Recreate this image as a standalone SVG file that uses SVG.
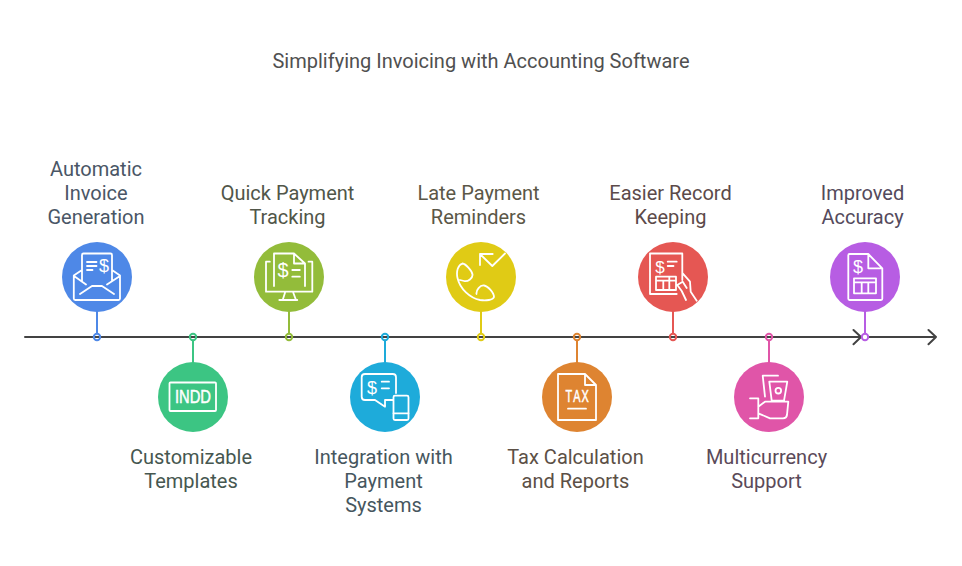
<svg xmlns="http://www.w3.org/2000/svg" width="962" height="566" viewBox="0 0 962 566">
<style>
text{font-family:Roboto,"Liberation Sans",sans-serif;font-size:20px;text-anchor:middle}
.i{fill:none;stroke:#fff;stroke-width:1.8;stroke-linecap:round;stroke-linejoin:round}
.g{fill:#fff;font-family:"Liberation Sans",sans-serif;font-weight:400}
.b{stroke:#fff;stroke-width:.5}
.a{fill:none;stroke:#434343;stroke-width:2;stroke-linecap:round;stroke-linejoin:round}
.s{fill:none;stroke-width:2}
.d{fill:none;stroke-width:2}
</style>
<rect width="962" height="566" fill="#fff"/>
<text id="title" x="481" y="67.500" fill="#505050">Simplifying Invoicing with Accounting Software</text>
<g id="connectors">
<path class="a" d="M25 337H861M853.500 330L861 337L853.500 344.300M869 337H936M928.500 330L936 337L928.500 344.300"/>
<path class="s" stroke="#4e88e7" d="M97 311V334"/>
<path class="s" stroke="#3cc583" d="M193 340V363"/>
<path class="s" stroke="#93bc3a" d="M289 311V334"/>
<path class="s" stroke="#1eabda" d="M385 340V363"/>
<path class="s" stroke="#e0cb15" d="M481 311V334"/>
<path class="s" stroke="#de8431" d="M577 340V363"/>
<path class="s" stroke="#e55753" d="M673 311V334"/>
<path class="s" stroke="#e055a8" d="M769 340V363"/>
<path class="s" stroke="#b75de3" d="M865 311V334"/>
<circle class="d" stroke="#4e88e7" cx="97" cy="337" r="3.200"/>
<circle class="d" stroke="#3cc583" cx="193" cy="337" r="3.200"/>
<circle class="d" stroke="#93bc3a" cx="289" cy="337" r="3.200"/>
<circle class="d" stroke="#1eabda" cx="385" cy="337" r="3.200"/>
<circle class="d" stroke="#e0cb15" cx="481" cy="337" r="3.200"/>
<circle class="d" stroke="#de8431" cx="577" cy="337" r="3.200"/>
<circle class="d" stroke="#e55753" cx="673" cy="337" r="3.200"/>
<circle class="d" stroke="#e055a8" cx="769" cy="337" r="3.200"/>
<circle class="d" stroke="#b75de3" cx="865" cy="337" r="3.200"/>
</g>
<g id="node-invoice">
<circle cx="97" cy="277" r="35" fill="#4e88e7"/>
<path class="i" d="M82 281V255Q82 253.500 83.500 253.500H110.500Q112 253.500 112 255V281M82 270L73.800 275.500V298.500Q73.800 300 75.300 300H118.500Q120 300 120 298.500V275.500L112 270M74 276L86 284.500M120 276L107 284.500M80 294L92 286H102L114 294M87 262H96.500M87 266H96.500M87 270H92.500"/>
<text class="g" x="104" y="272" style="font-size:18px">$</text>
<text x="96" y="176" fill="#4a5666">Automatic</text><text x="96" y="200" fill="#4a5666">Invoice</text><text x="96" y="224" fill="#4a5666">Generation</text>
</g>
<g id="node-templates">
<circle cx="193" cy="397" r="35" fill="#3cc583"/>
<rect class="i" x="169.500" y="382.500" width="46.500" height="28.500" rx="1"/>
<text class="g b" x="193" y="403" style="font-size:18px" textLength="36" lengthAdjust="spacingAndGlyphs">INDD</text>
<text x="191" y="464" fill="#465750">Customizable</text><text x="191" y="488" fill="#465750">Templates</text>
</g>
<g id="node-tracking">
<circle cx="289" cy="277" r="35" fill="#93bc3a"/>
<path class="i" d="M274 286V253.500H294L305 263.500V286M294 253.500V263.500H305M269.800 261.700H266V291.700H312.300V261.700H308.500M285 292.700L282.700 300M293.300 292.700L296 300M279.300 300H297.300M292.300 270H299.800M292.300 276.700H299.800"/>
<text class="g" x="283" y="277" style="font-size:20px">$</text>
<text x="287.500" y="200" fill="#515649">Quick Payment</text><text x="287.500" y="224" fill="#515649">Tracking</text>
</g>
<g id="node-integration">
<circle cx="385" cy="397" r="35" fill="#1eabda"/>
<path class="i" d="M393 400H385V406.700L375 400H365Q361.700 400 361.700 396.700V377.300Q361.700 374 365 374H392.700Q396 374 396 377.300V393M381.700 381.700H389M381.700 388.300H389"/>
<rect class="i" x="393.500" y="395.700" width="15" height="24.300" rx="1.500"/>
<path class="i" d="M393.500 413.300H408.500"/>
<text class="g" x="372" y="394" style="font-size:18px">$</text>
<text x="383.500" y="464" fill="#46565e">Integration with</text><text x="383.500" y="488" fill="#46565e">Payment</text><text x="383.500" y="512" fill="#46565e">Systems</text>
</g>
<g id="node-reminders">
<circle cx="481" cy="277" r="35" fill="#e0cb15"/>
<path class="i" d="M505 253.500L492.300 266L480 254H492.700M480 254V265M462.500 263.500C458 265 456 271 457.500 278C460 289 470 298 480 300C486 301 493 300 494 297C494 293 488 286 484 285.500C480 285 476 290 476.500 294M462.500 263.500C466 264 472 271 472.500 274.500C473 278 468 282 464 281L460 280"/>
<text x="478.500" y="200" fill="#5b5747">Late Payment</text><text x="478.500" y="224" fill="#5b5747">Reminders</text>
</g>
<g id="node-tax">
<circle cx="577" cy="397" r="35" fill="#de8431"/>
<path class="i" d="M585 374H558V420H596V385ZM585 374V385H596M568 408.700H586"/>
<text class="g b" transform="translate(577 401.700) scale(.68 1)" x="-12 0 12" y="0" style="font-size:16px">TAX</text>
<text x="575.500" y="464" fill="#5c5046">Tax Calculation</text><text x="575.500" y="488" fill="#5c5046">and Reports</text>
</g>
<g id="node-records">
<circle cx="673" cy="277" r="35" fill="#e55753"/>
<path class="i" d="M682.300 280V253.500H650V294H676.700M667.700 261.700H676.700M667.700 266H673.500M656 276.700H676V290H656ZM656 280.700H676M663.300 280.700V290M669.300 276.700V290M682.700 273.300L690 281.700L690.700 291.700L696.700 300.700M677.300 285L682.700 281.700L686.700 288M677.300 285L681.700 291L686 300"/>
<text class="g" x="660" y="272.700" style="font-size:17px">$</text>
<text x="670.500" y="200" fill="#5c4a4a">Easier Record</text><text x="670.500" y="224" fill="#5c4a4a">Keeping</text>
</g>
<g id="node-currency">
<circle cx="769" cy="397" r="35" fill="#e055a8"/>
<path class="i" d="M778 375.700H762.700L765 396.700M769.300 381.700H787.300L784 400.700H771.700ZM750 398.300H758.300V418.300H750M758.300 406.700L765 401.700H788.300L787 415Q786.500 418.300 783 418.300H770L758.300 413.300"/>
<circle class="i" cx="778.300" cy="390.700" r="2.800"/>
<text x="766.500" y="464" fill="#5b4a59">Multicurrency</text><text x="766.500" y="488" fill="#5b4a59">Support</text>
</g>
<g id="node-accuracy">
<circle cx="865" cy="277" r="35" fill="#b75de3"/>
<path class="i" d="M868.300 254H849.500Q848.300 254 848.300 255.200V298.800Q848.300 300 849.500 300H881Q882.300 300 882.300 298.800V268.300ZM868.300 254V268.300H882.300M854 278.300H876V293.300H854ZM854 282.300H876M861.700 282.300V293.300M868.300 282.300V293.300"/>
<text class="g" x="858" y="272.700" style="font-size:18px">$</text>
<text x="862.500" y="200" fill="#544a5c">Improved</text><text x="862.500" y="224" fill="#544a5c">Accuracy</text>
</g>
</svg>
